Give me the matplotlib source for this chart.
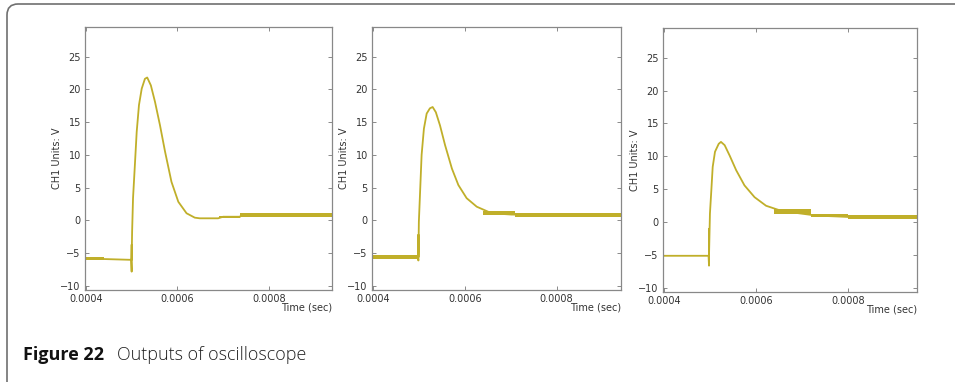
import matplotlib.pyplot as plt
from matplotlib.patches import FancyBboxPatch
from matplotlib.transforms import IdentityTransform

# three oscilloscope captures, values (sec, V)
t1 = [0.0004, 0.00045, 0.000499, 0.0005, 0.0005, 0.0005, 0.000501, 0.000503, 0.000507,
      0.000511, 0.000516, 0.000522, 0.000529, 0.000534, 0.000542, 0.000551, 0.000562,
      0.000573, 0.000587, 0.000602, 0.00062, 0.000638, 0.000649, 0.000689, 0.0007,
      0.000737, 0.00074, 0.00094]
v1 = [-5.8, -5.9, -6.0, -7.8, -3.7, -6.0, -1.7, 3.4, 8.4,
      13.5, 17.6, 20.1, 21.6, 21.8, 20.6, 18.1, 14.5,
      10.5, 5.9, 2.85, 1.1, 0.43, 0.33, 0.33, 0.57,
      0.57, 0.9, 0.9]

t2 = [0.0004, 0.000498, 0.000499, 0.000499, 0.000499, 0.0005, 0.000503, 0.000506,
      0.000511, 0.000517, 0.000524, 0.00053, 0.000537, 0.000546, 0.000557, 0.000572,
      0.000586, 0.000604, 0.000626, 0.000652, 0.000681, 0.000702, 0.00094]
v2 = [-5.6, -5.6, -6.1, -2.2, -5.6, -0.2, 4.9, 10.0,
      14.0, 16.3, 17.1, 17.3, 16.5, 14.5, 11.5, 7.9,
      5.4, 3.4, 2.1, 1.3, 1.0, 0.9, 0.85]

t3 = [0.0004, 0.000497, 0.000498, 0.000498, 0.000498, 0.0005, 0.000503, 0.000506,
      0.000511, 0.000519, 0.000524, 0.000532, 0.000543, 0.000557, 0.000575, 0.000597,
      0.000622, 0.000652, 0.000689, 0.000732, 0.000775, 0.0008, 0.00095]
v3 = [-5.1, -5.1, -6.6, -1.0, -5.1, 1.3, 4.8, 8.4,
      10.7, 11.9, 12.2, 11.7, 10.1, 7.9, 5.6, 3.8,
      2.5, 1.8, 1.4, 1.0, 0.88, 0.8, 0.8]

# noisy stretches drawn as thin bands: (start, end, low, high)
bands1 = [(0.0004, 0.00044, -6.0, -5.6), (0.000737, 0.00094, 0.6, 1.15), (0.00069, 0.000737, 0.4, 0.7)]
bands2 = [(0.0004, 0.000497, -5.9, -5.3), (0.00071, 0.00094, 0.6, 1.1), (0.00064, 0.00071, 0.8, 1.4)]
bands3 = [(0.0008, 0.00095, 0.55, 1.05), (0.00064, 0.00072, 1.2, 2.0), (0.00072, 0.0008, 0.8, 1.3)]

panels = [(t1, v1, bands1), (t2, v2, bands2), (t3, v3, bands3)]
xlims = [(0.000398, 0.000938), (0.000398, 0.00094), (0.000398, 0.00095)]
yticks = [-10, -5, 0, 5, 10, 15, 20, 25]
xticks = [0.0004, 0.0006, 0.0008]
xtick_labels = ["0.0004", "0.0006", "0.0008"]

W, H = 955, 382
# axes boxes in pixels: left, top, right, bottom
boxes = [(85, 27, 332, 290), (372, 27, 621, 290), (663, 28, 917, 292)]

trace_col = "#c0af2a"
text_col = "#333333"

fig = plt.figure(figsize=(W / 100, H / 100), dpi=100)

# rounded frame of the journal figure box (pixel coords, y up)
frame = FancyBboxPatch((7, -40), 1000, H - 4 + 40,
                       boxstyle="round,pad=0,rounding_size=11",
                       transform=IdentityTransform(), fill=False,
                       edgecolor="#707070", linewidth=1.2)
fig.patches.append(frame)

for (t, v, bands), (l, tp, r, b), xl in zip(panels, boxes, xlims):
    ax = fig.add_axes([l / W, 1 - b / H, (r - l) / W, (b - tp) / H])
    for s, e, lo, hi in bands:
        ax.fill_between([s, e], [lo, lo], [hi, hi], color=trace_col, linewidth=0)
    ax.plot(t, v, color=trace_col, linewidth=1.3)
    ax.set_xlim(*xl)
    ax.set_ylim(-10.6, 29.5)
    ax.set_yticks(yticks)
    ax.set_yticklabels(["\u2212" + str(-y) if y < 0 else str(y) for y in yticks])
    ax.set_xticks(xticks)
    ax.set_xticklabels(xtick_labels)
    ax.tick_params(direction="in", length=3, width=0.6, colors="#777777",
                   labelcolor=text_col, labelsize=7, top=True, right=True, pad=3)
    for sp in ax.spines.values():
        sp.set_color("#888888")
        sp.set_linewidth(0.9)
    ax.set_ylabel("CH1 Units: V", fontsize=7, color=text_col, va="center")
    ax.yaxis.set_label_coords(-28 / (r - l), 0.5)
    ax.set_xlabel("Time (sec)", fontsize=7, color=text_col, ha="right", va="center")
    ax.xaxis.set_label_coords(1.0, -17 / (b - tp))

fig.text(23 / W, 1 - 355 / H, "Figure 22", fontsize=13, fontweight="bold",
         family="Open Sans", color="#111111", va="center")
fig.text(117 / W, 1 - 355 / H, "Outputs of oscilloscope", fontsize=13,
         fontweight="light", family="Open Sans", color="#222222", va="center")

fig.savefig("out.png", dpi=100)
